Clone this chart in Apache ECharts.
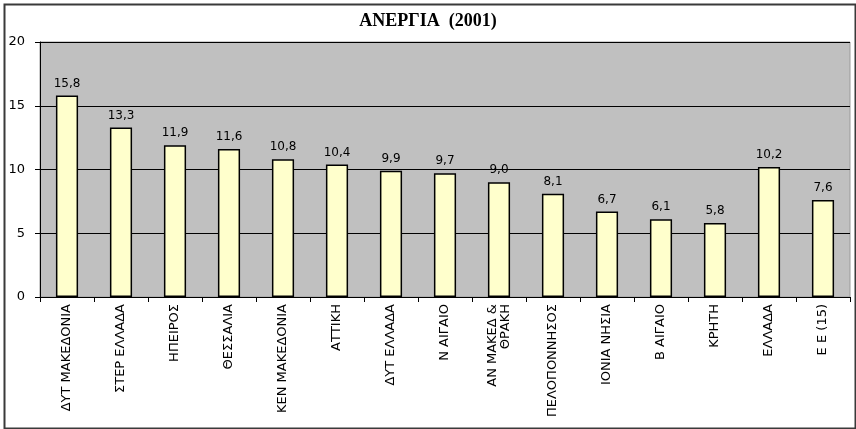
<!DOCTYPE html>
<html>
<head>
<meta charset="utf-8">
<script src="https://cdn.jsdelivr.net/npm/echarts@6/dist/echarts.min.js"></script>
<style>html,body{margin:0;padding:0;background:#fff}#c{width:856px;height:429px}</style>
</head>
<body>
<div id="c"></div>
<script>
var titleText = 'ΑΝΕΡΓΙΑ  (2001)';
var categories = ['ΔΥΤ ΜΑΚΕΔΟΝΙΑ','ΣΤΕΡ ΕΛΛΑΔΑ','ΗΠΕΙΡΟΣ','ΘΕΣΣΑΛΙΑ','ΚΕΝ ΜΑΚΕΔΟΝΙΑ','ΑΤΤΙΚΗ','ΔΥΤ ΕΛΛΑΔΑ','Ν ΑΙΓΑΙΟ','ΑΝ ΜΑΚΕΔ &\nΘΡΑΚΗ','ΠΕΛΟΠΟΝΝΗΣΟΣ','ΙΟΝΙΑ ΝΗΣΙΑ','Β ΑΙΓΑΙΟ','ΚΡΗΤΗ','ΕΛΛΑΔΑ','Ε Ε (15)'];
var values = [15.8, 13.3, 11.9, 11.6, 10.8, 10.4, 9.9, 9.7, 9.0, 8.1, 6.7, 6.1, 5.8, 10.2, 7.6];
var yTicks = [0, 5, 10, 15, 20];

var chart = echarts.init(document.getElementById('c'), null, {renderer: 'canvas'});
chart.setOption({
  animation: false,
  backgroundColor: '#ffffff',
  title: {
    text: titleText, left: 'center', top: 7,
    textStyle: {fontFamily: 'Liberation Serif', fontWeight: 'bold', fontSize: 18, color: '#000'}
  },
  graphic: [{
    type: 'rect', left: 2, top: 2, silent: true,
    shape: {width: 851, height: 424},
    style: {fill: 'none', stroke: '#3a3a3a', lineWidth: 2}
  }],
  grid: {left: 40, right: 6, top: 42, bottom: 132, show: true, backgroundColor: '#c0c0c0', borderColor: '#9a9a9a', borderWidth: 1},
  xAxis: {
    type: 'category', data: categories,
    axisLine: {lineStyle: {color: '#000', width: 1}},
    axisTick: {show: true, length: 5, lineStyle: {color: '#000'}},
    axisLabel: {rotate: 90, interval: 0, margin: 7, fontFamily: 'DejaVu Sans', fontSize: 13, color: '#000', lineHeight: 13}
  },
  yAxis: {
    type: 'value', min: yTicks[0], max: yTicks[yTicks.length - 1], interval: 5,
    axisLine: {show: true, lineStyle: {color: '#000', width: 1}},
    axisTick: {show: true, length: 5, lineStyle: {color: '#000'}},
    axisLabel: {margin: 15, fontFamily: 'DejaVu Sans', fontSize: 13, color: '#000'},
    splitLine: {show: true, lineStyle: {color: '#000', width: 1}}
  },
  series: [{
    type: 'bar', data: values, barWidth: '41%',
    itemStyle: {color: '#ffffcc', borderColor: '#000', borderWidth: 1.5},
    label: {
      show: true, position: 'top', distance: 6,
      fontFamily: 'DejaVu Sans', fontSize: 12, color: '#000',
      formatter: function (p) { return p.value.toFixed(1).replace('.', ','); }
    }
  }]
});
</script>
</body>
</html>
